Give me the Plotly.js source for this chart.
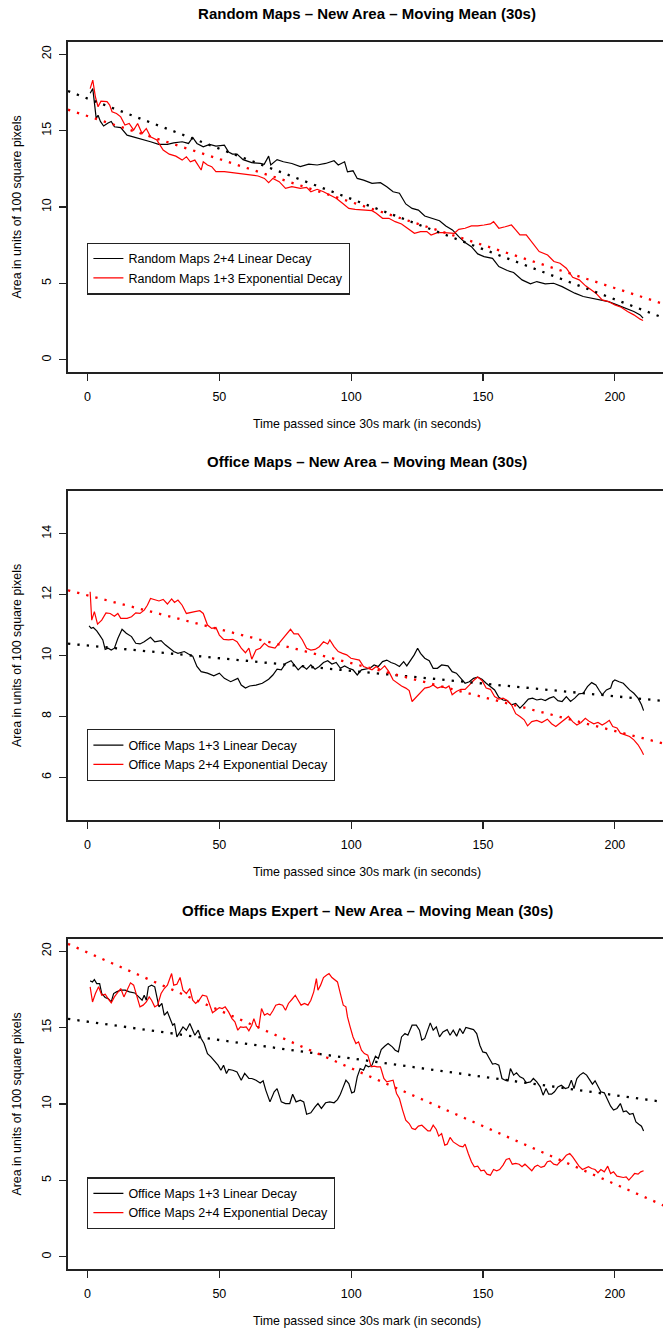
<!DOCTYPE html>
<html>
<head>
<meta charset="utf-8">
<script src="https://cdn.plot.ly/plotly-3.0.1.min.js"></script>
<style>
html,body{margin:0;padding:0;overflow:hidden;background:#fff;}
#chart{width:680px;height:1330px;}
</style>
</head>
<body>
<div id="chart"></div>
<script>
// ---------- data (time in s, area in units of 100 px^2) ----------
const panelTitles = [
  "Random Maps – New Area – Moving Mean (30s)",
  "Office Maps – New Area – Moving Mean (30s)",
  "Office Maps Expert – New Area – Moving Mean (30s)"
];
const seriesNames = [
  ["Random Maps 2+4 Linear Decay", "Random Maps 1+3 Exponential Decay"],
  ["Office Maps 1+3 Linear Decay", "Office Maps 2+4 Exponential Decay"],
  ["Office Maps 1+3 Linear Decay", "Office Maps 2+4 Exponential Decay"]
];
const xTicks = [0, 50, 100, 150, 200];
const yTicks = [[0, 5, 10, 15, 20], [6, 8, 10, 12, 14], [0, 5, 10, 15, 20]];
const yRanges = [[-0.8, 20.8], [4.6, 15.4], [-0.8, 20.8]];
const xRange = [-7.4, 219.4];

// panel 1 – Random maps
const randomLinear = [[1,17.45],[2,17.75],[3.3,15.8],[4,16.0],[4.9,15.6],[6.1,15.3],[7.8,15.5],[9,15.6],[10.2,15.25],[12.6,15.2],[15,14.7],[18.3,14.55],[21.5,14.4],[23.9,14.27],[27,14.1],[30.3,14.1],[32.7,14.2],[35.9,14.27],[38.3,14.16],[39.9,14.55],[41.5,14.16],[43.9,13.94],[46.3,14.1],[48.7,13.99],[51.9,14.05],[53.5,13.6],[55,13.46],[56.7,13.46],[59,13.1],[62.3,12.9],[65.5,12.85],[67,12.8],[68.7,13.33],[69.5,12.75],[71.9,13.1],[74.3,12.96],[77.5,12.85],[80.7,12.64],[83.9,12.8],[87.1,12.75],[90.3,12.85],[93.5,13.03],[95.1,12.75],[97.5,12.96],[98.6,12.3],[100.7,12.37],[102.3,11.87],[104.7,11.76],[107.9,11.55],[111.1,11.59],[113.5,11.33],[115.9,11.0],[118.3,10.9],[120.7,10.2],[123.1,9.91],[125.5,9.8],[127.9,9.41],[130.3,9.26],[133.5,9.1],[135.9,8.76],[138.4,8.5],[140.8,8.06],[143.2,7.67],[145.6,7.4],[148,6.93],[150.4,6.75],[153.6,6.64],[156,6.1],[159.2,5.84],[161.6,5.71],[164.8,5.23],[168,4.97],[170.4,5.12],[173.6,4.97],[176.8,5.01],[180,4.79],[182.4,4.58],[184.8,4.36],[188,4.14],[191.2,4.03],[194.4,3.92],[197.6,3.81],[200.8,3.59],[204,3.38],[207.2,3.16],[209.6,2.94],[210.7,2.72]];
const randomExp = [[1,17.75],[2,18.3],[3,17.2],[4,16.56],[5.1,16.93],[7.4,16.9],[8.4,16.67],[9.3,16.23],[11,16.12],[12.6,15.9],[14.2,15.36],[15.8,15.47],[17.5,15.03],[19,15.47],[20.7,14.81],[22.3,15.14],[23.9,14.6],[26.3,14.38],[28.7,13.73],[31,13.46],[33.5,13.33],[35.9,13.07],[37.5,13.29],[39,12.96],[40.7,13.07],[43.1,12.42],[43.9,12.96],[45.5,12.75],[47.1,12.64],[48.7,12.31],[51.9,12.31],[55,12.24],[58.3,12.2],[61.5,12.09],[64.7,12.03],[67.1,11.87],[68.7,11.59],[70.3,11.87],[72.7,11.66],[75.1,11.22],[77.5,11.33],[80.7,11.22],[83.1,11.29],[84.7,11.0],[87.1,11.16],[89.5,11.0],[91.9,10.78],[94.3,10.57],[96.7,10.24],[99.1,9.91],[101.5,9.85],[104.7,9.8],[107.9,9.76],[109.5,9.59],[111.9,9.26],[114.3,9.26],[116.7,9.04],[119.1,8.89],[121.5,8.61],[124,8.28],[126.3,8.39],[128.7,8.39],[130.3,8.17],[132.7,8.32],[135.1,8.32],[137.5,8.28],[139.1,8.28],[140.8,8.54],[143.2,8.61],[145.6,8.76],[148,8.76],[150.4,8.82],[152.8,8.89],[154,9.04],[156,8.61],[158.4,8.71],[160.8,8.82],[162.4,8.5],[164,8.17],[166.4,8.17],[168.8,7.63],[171.3,7.08],[174.5,6.86],[176.9,6.43],[179.2,6.32],[181.6,5.99],[184,5.4],[186.5,5.23],[188.9,4.84],[191.2,4.58],[192.8,4.36],[195.2,3.92],[197.6,3.81],[200,3.59],[202.4,3.44],[204.8,3.16],[207.2,2.94],[209.6,2.66],[210.7,2.57]];

// panel 2 – Office maps
const officeLinear = [[0.6,10.97],[1.4,10.89],[2.2,10.92],[3.5,10.81],[4.6,10.67],[5.8,10.51],[6.7,10.2],[7.8,10.24],[9,10.18],[10.2,10.24],[11.5,10.56],[13.1,10.86],[14.7,10.73],[16.7,10.62],[18.3,10.4],[19.9,10.38],[21.5,10.45],[23.9,10.6],[25.5,10.45],[27.9,10.49],[29.5,10.35],[31.1,10.24],[32.7,10.13],[34.3,10.07],[36.7,10.13],[38.3,10.05],[39.9,9.98],[41.5,9.64],[43.1,9.47],[45.5,9.42],[47.9,9.33],[50,9.42],[51.9,9.25],[54.3,9.14],[55.9,9.2],[57,9.25],[58.3,9.03],[59.9,8.93],[61.5,9.0],[63.9,9.03],[66.3,9.09],[68.7,9.22],[70.3,9.36],[71.9,9.55],[73.5,9.53],[75.1,9.74],[77.2,9.83],[78.3,9.69],[79.9,9.53],[81.5,9.66],[83.1,9.55],[84.7,9.69],[86.3,9.55],[87.9,9.64],[89.5,9.77],[91.1,9.83],[92.7,9.72],[94.3,9.77],[95.9,9.58],[97.5,9.66],[99.1,9.58],[100.7,9.53],[102.3,9.36],[103.9,9.53],[105.5,9.55],[107.1,9.58],[108.7,9.69],[110.3,9.64],[111.9,9.8],[113.5,9.85],[115.1,9.77],[116.7,9.72],[118.3,9.64],[119.9,9.8],[121.1,9.66],[122.3,9.8],[123.9,10.02],[125.2,10.24],[126.3,10.07],[127.9,9.91],[129.6,9.83],[131.1,9.58],[132.7,9.58],[134.3,9.69],[136.7,9.66],[138.3,9.47],[139.9,9.42],[141.6,9.25],[143.2,9.09],[144.8,9.14],[146.4,9.25],[148,9.29],[149.6,9.22],[151.2,9.09],[152.8,8.98],[154.4,8.87],[156,8.63],[157.6,8.54],[159.2,8.52],[160.8,8.38],[162.4,8.43],[164,8.27],[165.6,8.41],[167.2,8.57],[168.8,8.6],[170.4,8.54],[172,8.57],[173.6,8.52],[175.2,8.6],[176.8,8.65],[178.4,8.52],[180,8.49],[181.6,8.65],[183.2,8.49],[184.8,8.6],[186.4,8.74],[188,8.76],[189.6,8.98],[191.2,9.11],[192.8,9.03],[194.1,8.85],[195.2,8.71],[196.8,8.87],[198.4,8.93],[199.2,9.14],[200,9.2],[201.6,9.14],[203.2,9.09],[205.6,8.87],[207.2,8.76],[208.8,8.6],[210.1,8.38],[210.9,8.19]];
const officeExp = [[1,12.09],[1.6,11.16],[2.6,11.44],[3.8,11.03],[5.4,11.16],[7,11.4],[8.6,11.38],[10.2,11.29],[11.5,11.38],[12.6,11.22],[15,11.22],[16.7,11.27],[18.3,11.4],[19.9,11.38],[21.5,11.49],[22.7,11.65],[23.9,11.87],[25.5,11.82],[27.1,11.79],[28.7,11.84],[30.3,11.69],[31.9,11.86],[33,11.74],[34.3,11.82],[35.9,11.65],[37.5,11.38],[39.1,11.4],[40.7,11.44],[42.6,11.47],[43.9,11.38],[45.5,11.0],[47.1,10.89],[48.7,10.92],[50,10.67],[51.6,10.53],[53.5,10.51],[55.1,10.53],[56.7,10.45],[58.3,10.24],[59.9,10.09],[61.2,10.24],[62.3,9.88],[63.9,10.18],[65.5,10.24],[67.1,10.4],[68.7,10.29],[71.1,10.24],[72.7,10.4],[74.3,10.56],[75.9,10.73],[77,10.86],[78.3,10.71],[79.9,10.71],[81.5,10.51],[83.1,10.24],[84.7,10.18],[86.3,10.2],[87.9,10.29],[89.5,10.45],[91.1,10.38],[91.9,10.51],[93.5,10.29],[95.1,10.13],[96.7,10.07],[98.3,10.02],[99.9,9.91],[101.5,9.88],[103.1,9.85],[104.7,9.64],[106.3,9.58],[107.9,9.53],[109.5,9.64],[111.1,9.53],[112.7,9.66],[114.3,9.47],[115.9,9.2],[117.5,9.09],[119.1,9.0],[120.7,8.93],[122,8.85],[123.1,8.49],[124.7,8.63],[126.3,8.76],[127.9,8.93],[129.6,8.96],[131.1,9.03],[132.7,8.93],[134.3,8.98],[135.9,8.93],[137.1,9.0],[138.3,8.71],[139.9,8.82],[141.6,8.89],[143.2,8.89],[144.8,9.03],[146.4,9.18],[148,9.29],[149.6,9.18],[151.2,8.93],[152.8,8.89],[154.4,8.65],[156,8.57],[157.6,8.6],[159.2,8.52],[160.8,8.38],[162.4,8.09],[164,8.0],[165.6,7.89],[166.9,7.69],[168.5,7.83],[170.4,7.87],[172.3,7.8],[174.4,7.91],[176,7.76],[177.6,7.67],[179.2,7.78],[180.8,7.89],[182.4,8.0],[184,7.83],[185.6,7.72],[187.2,7.8],[188.8,7.94],[190.4,7.83],[192,7.76],[193.6,7.8],[195.2,7.72],[196.8,7.8],[197.9,7.87],[199.2,7.67],[200.8,7.62],[202.1,7.45],[204,7.4],[205.6,7.34],[207.2,7.23],[208.8,7.07],[210.1,6.88],[210.9,6.74]];

// panel 3 – Office maps expert
const expertLinear = [[1,18.06],[1.9,17.99],[2.6,18.15],[3.5,17.88],[4.6,17.88],[5.4,17.23],[6.7,16.97],[7.8,16.9],[9,16.68],[9.9,17.23],[11,17.34],[12.6,17.45],[14.3,17.45],[15.9,17.34],[17.9,17.27],[19.5,17.01],[20.7,16.79],[21.5,17.12],[22.3,16.79],[23.1,17.67],[24.3,17.78],[25.5,17.67],[26.3,16.9],[27.1,16.36],[28.2,16.58],[29.1,15.81],[30.3,16.03],[31.4,15.59],[32.3,15.16],[33,15.27],[33.9,14.39],[35.1,14.72],[36.2,15.05],[37.5,14.83],[38.8,15.27],[39.9,14.83],[40.7,14.5],[42,14.83],[43.1,14.29],[44.2,13.96],[45.5,13.3],[46.8,13.09],[48.4,12.76],[49.5,12.54],[50.6,12.21],[51.6,12.54],[52.7,12.0],[53.5,12.26],[55.1,12.21],[56.7,12.1],[58.3,11.56],[59.6,12.0],[61.2,11.67],[62.3,11.67],[63.9,11.56],[65.5,11.38],[66.6,11.52],[67.6,10.91],[69.2,10.14],[70.8,10.8],[71.9,11.01],[73.5,10.14],[75.1,10.03],[76.7,10.03],[77.8,10.64],[79.1,10.14],[80.7,10.25],[82,10.14],[83.1,9.33],[84.7,9.42],[86.3,9.81],[87.4,10.03],[88.7,9.71],[90.3,10.08],[91.9,10.14],[93.5,10.08],[94.8,10.29],[95.9,10.64],[97,11.12],[98,11.56],[99.1,11.34],[100.2,10.73],[101.2,10.8],[102.3,11.78],[103.4,12.32],[104.7,12.21],[105.5,12.54],[106.6,12.43],[107.9,12.54],[109.2,13.13],[110.3,12.98],[111.4,13.57],[112.7,13.78],[114,13.96],[115.6,13.74],[116.7,13.52],[117.9,13.41],[119.1,14.39],[120.4,14.61],[121.5,14.5],[123.1,15.16],[124.7,15.16],[125.9,14.83],[126.8,14.18],[127.9,14.29],[129.1,14.83],[130,15.31],[131.1,14.83],[132.3,15.05],[133.5,14.39],[134.8,14.72],[136.4,14.87],[137.5,14.5],[138.7,14.83],[140,14.44],[141.2,14.94],[142.4,14.61],[143.5,15.01],[144.8,14.94],[146.4,14.87],[147.6,14.61],[148.8,13.85],[149.9,13.41],[151.2,13.35],[152.4,12.98],[153.6,12.61],[154.7,12.65],[156,12.54],[157.2,11.67],[158.4,11.56],[159.5,11.52],[160.4,12.32],[161.6,11.89],[162.7,12.04],[164,11.78],[165.3,11.67],[166.4,11.38],[168,11.45],[169.1,11.67],[170.4,11.45],[171.7,11.12],[172.8,10.58],[173.9,11.01],[174.9,10.64],[176,10.64],[177.1,10.8],[178.4,11.12],[179.7,11.23],[181.2,11.01],[182.4,11.08],[183.5,11.56],[184.5,11.01],[185.6,11.67],[186.7,11.89],[188,12.04],[189.3,11.89],[190.4,11.6],[191.5,11.3],[192.5,11.52],[193.6,11.12],[194.7,10.8],[196,10.73],[197.3,10.25],[198.4,9.86],[199.5,9.6],[200.8,9.71],[202.1,10.03],[203.2,9.49],[204.3,9.55],[205.6,9.33],[206.9,9.38],[208,8.83],[209.1,8.68],[210.1,8.55],[210.9,8.24]];
const expertExp = [[1,17.67],[1.9,16.68],[3,17.23],[4.2,17.67],[5.4,17.12],[6.7,17.19],[7.8,16.9],[9,16.62],[10.2,17.01],[11.5,17.34],[12.6,17.56],[13.8,17.01],[15,17.45],[16.3,17.93],[17.5,17.78],[18.6,17.06],[19.9,16.36],[21.1,16.47],[22.3,16.68],[23.4,17.01],[24.3,16.79],[25.5,16.36],[26.6,16.47],[27.9,17.23],[29.1,17.56],[30.3,17.78],[31.1,18.21],[31.9,18.54],[32.7,17.78],[33.9,17.84],[35.1,18.28],[36.2,17.45],[37.5,17.23],[38.8,17.56],[39.9,16.79],[41,16.58],[42.3,16.79],[43.6,17.12],[45.2,17.06],[46.3,16.47],[47.4,15.97],[48.7,16.14],[50,16.31],[51.1,16.25],[52.2,16.36],[53.5,16.03],[54.8,15.59],[55.9,15.38],[57,14.83],[58,15.05],[59.1,15.01],[60.2,15.05],[61.2,14.79],[62.3,15.16],[63.1,15.59],[64.1,15.09],[65,15.05],[66,16.25],[67.1,15.81],[68.2,15.92],[69.2,15.81],[70.3,16.1],[71.4,16.47],[72.7,16.53],[74,16.47],[75.1,16.14],[76.2,16.58],[77.5,16.84],[78.8,17.12],[79.9,16.79],[81,16.47],[82.3,16.58],[83.6,16.47],[84.7,16.79],[85.8,17.34],[86.8,18.21],[87.4,17.45],[88.4,17.78],[89.5,18.28],[90.6,18.43],[91.6,18.54],[92.7,18.28],[93.8,18.1],[94.8,17.99],[95.9,17.23],[97,16.47],[98,16.36],[98.6,15.7],[99.6,15.05],[100.7,14.39],[101.8,13.96],[102.8,14.07],[103.9,13.52],[105,13.3],[106.3,13.2],[107.6,12.43],[108.7,12.48],[109.8,12.43],[111.1,12.43],[112.4,11.67],[113.5,11.45],[114.7,11.52],[115.9,11.56],[117.2,10.69],[118.3,10.36],[119.5,9.6],[120.7,8.94],[122,8.72],[123.1,8.4],[124.3,8.33],[125.5,8.55],[126.8,8.61],[127.9,8.46],[129.1,8.24],[130,8.24],[131.1,8.61],[132.3,8.33],[133.2,7.9],[134.3,8.07],[135.5,7.31],[136.4,7.37],[137.5,7.81],[138.7,7.52],[140,7.37],[141.2,7.24],[142.4,7.2],[143.2,7.37],[144.4,6.76],[145.6,6.22],[146.7,5.89],[148,5.93],[149.2,5.63],[150.4,5.67],[151.5,5.41],[152.8,5.34],[154,5.71],[155.2,5.63],[156.3,5.71],[157.6,6.0],[158.8,6.37],[160,6.43],[161.1,6.06],[162.4,6.11],[163.7,6.06],[164.8,5.89],[165.9,6.06],[167.2,5.85],[168.5,5.63],[169.6,5.89],[170.7,6.0],[172,5.85],[173.3,5.93],[174.4,6.22],[175.5,6.28],[176.8,6.06],[178.1,6.0],[179.2,6.22],[180.3,6.37],[181.6,6.65],[182.9,6.76],[184,6.54],[185.1,6.22],[186.4,5.93],[187.7,5.71],[188.8,5.78],[190,5.89],[191.2,5.78],[192.5,5.71],[193.6,5.5],[194.7,5.71],[196,5.56],[197.3,5.93],[198.4,5.45],[199.5,5.56],[200.8,5.28],[202.1,5.23],[203.2,5.19],[204.3,5.23],[205.3,5.02],[206.4,5.23],[207.5,5.45],[208.8,5.41],[209.8,5.56],[210.9,5.63]];

// fitted trend lines (value at left and right end of the x range)
const fitX = [-7.4, 219.4];
const fitLinearY = [[17.59, 2.68], [10.39, 8.50], [15.57, 10.11]];
const fitExpY = [[16.37, 3.60], [12.14, 7.09], [20.48, 3.29]];

// ---------- figure ----------
const FONT = "Liberation Sans, Arial, Helvetica, sans-serif";
const H = 1330;
const boxes = [[42, 372], [491, 820], [939, 1269]]; // pixel top/bottom of each plot box
const legendTops = [242.5, 729, 1177.3];
const titleY = [13.5, 462, 910];
const observed = [[randomLinear, randomExp], [officeLinear, officeExp], [expertLinear, expertExp]];

const traces = [];
const layout = {
  width: 680, height: H,
  margin: {l: 68, r: 14, t: 0, b: 0},
  paper_bgcolor: "#ffffff", plot_bgcolor: "#ffffff",
  font: {family: FONT, size: 12.5, color: "#000"},
  showlegend: true,
  annotations: []
};

for (let p = 0; p < 3; p++) {
  const sfx = p === 0 ? "" : String(p + 1);
  const xa = "x" + sfx, ya = "y" + sfx;
  const leg = "legend" + sfx;
  const colors = ["#000000", "#ff0000"];
  observed[p].forEach((series, s) => {
    traces.push({
      type: "scatter", mode: "lines", xaxis: xa, yaxis: ya, legend: leg,
      name: seriesNames[p][s],
      x: series.map(d => d[0]), y: series.map(d => d[1]),
      line: {color: colors[s], width: 1.2},
      hoverinfo: "skip"
    });
  });
  [fitLinearY[p], fitExpY[p]].forEach((fy, s) => {
    traces.push({
      type: "scatter", mode: "lines", xaxis: xa, yaxis: ya, legend: leg,
      showlegend: false, x: fitX, y: fy,
      line: {color: colors[s], width: 2.3, dash: "2.3px,7.1px"},
      hoverinfo: "skip"
    });
  });
  const dom = [1 - boxes[p][1] / H, 1 - boxes[p][0] / H];
  layout["xaxis" + sfx] = {
    domain: [0, 1], anchor: ya, range: xRange, tickvals: xTicks,
    ticks: "outside", ticklen: 7, tickwidth: 1.2, tickcolor: "#222",
    showline: true, linecolor: "#222", linewidth: 1.6, mirror: true,
    showgrid: false, zeroline: false, ticklabelstandoff: 5,
    tickfont: {size: 12.5, family: FONT},
    title: {text: "Time passed since 30s mark (in seconds)", font: {size: 12.4, family: FONT}, standoff: 17}
  };
  layout["yaxis" + sfx] = {
    domain: dom, anchor: xa, range: yRanges[p], tickvals: yTicks[p], tickangle: -90,
    ticks: "outside", ticklen: 7, tickwidth: 1.2, tickcolor: "#222",
    showline: true, linecolor: "#222", linewidth: 1.6, mirror: true,
    showgrid: false, zeroline: false, ticklabelstandoff: 3,
    tickfont: {size: 12.5, family: FONT},
    title: {text: "Area in units of 100 square pixels", font: {size: 12.4, family: FONT}, standoff: 16}
  };
  layout[leg] = {
    x: (87 - 68) / 598, y: 1 - legendTops[p] / H, xanchor: "left", yanchor: "top",
    bgcolor: "#ffffff", bordercolor: "#222", borderwidth: 1.4,
    font: {size: 12.5, family: FONT}, tracegroupgap: 0, itemwidth: 30
  };
  const titleObj = {
    text: "<b>" + panelTitles[p] + "</b>", font: {size: 15, family: FONT, color: "#000"}
  };
  if (p === 0) {
    layout.title = Object.assign({}, titleObj, {x: 0.5, xref: "paper", y: 1 - titleY[p] / H, yref: "container", yanchor: "middle", xanchor: "center"});
  } else {
    layout.annotations.push(Object.assign({}, titleObj, {
      x: 0.5, xref: "paper", y: 1 - titleY[p] / H, yref: "paper",
      xanchor: "center", yanchor: "middle", showarrow: false
    }));
  }
}

Plotly.newPlot("chart", traces, layout, {displayModeBar: false, staticPlot: true});
</script>
</body>
</html>
